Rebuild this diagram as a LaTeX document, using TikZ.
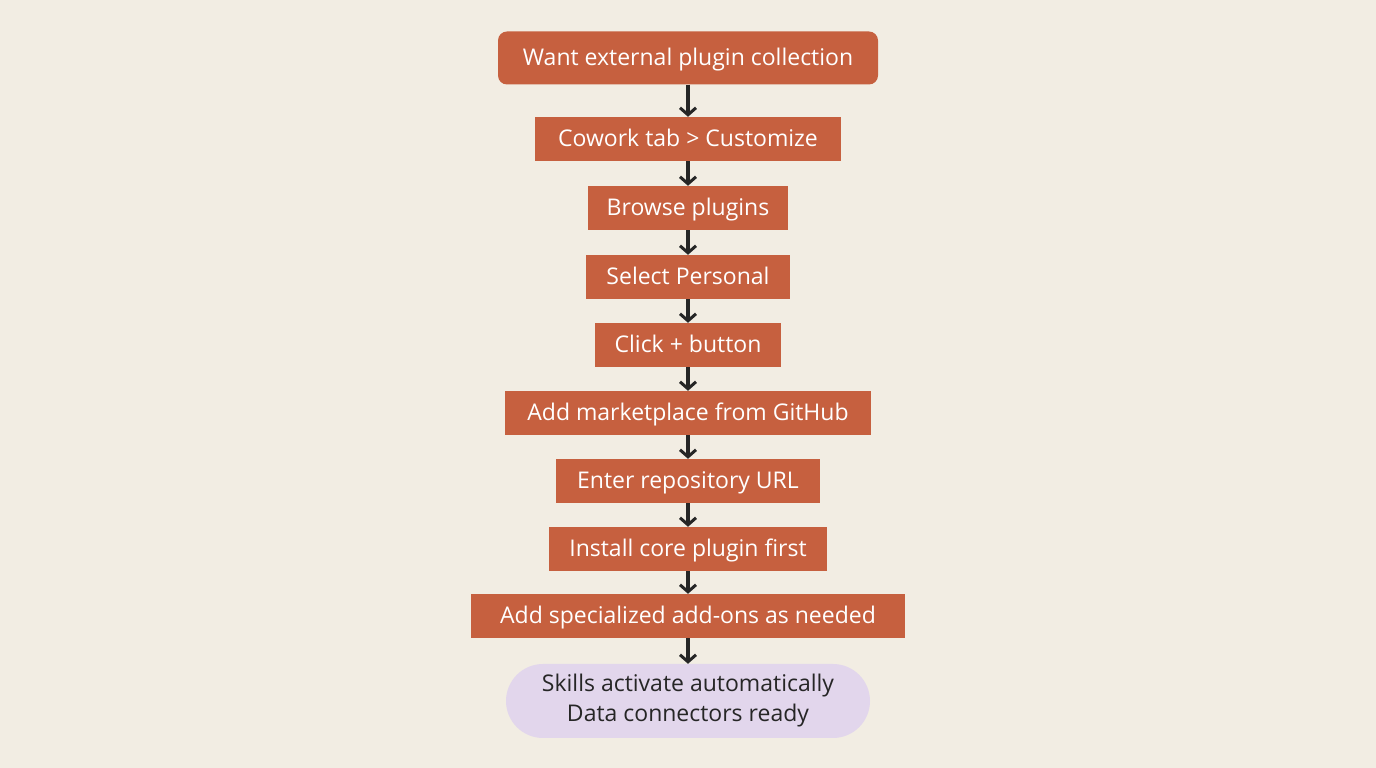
\documentclass[tikz,border=0pt]{standalone}
\usepackage{fontspec}
\setmainfont{Open Sans}
\usetikzlibrary{arrows.meta}
\definecolor{bg}{HTML}{F2EDE3}
\definecolor{rust}{HTML}{C6603F}
\definecolor{lav}{HTML}{E2D6EC}
\begin{document}
\begin{tikzpicture}[x=1pt,y=1pt,
  stepbox/.style={fill=rust,text=white,font=\fontsize{23}{27}\selectfont,inner sep=0pt,minimum height=44pt,text height=19pt,text depth=3pt},
  arr/.style={draw=black!85,line width=3.5pt,-{Straight Barb[length=7pt,width=16pt,line width=3pt]}}]
\fill[bg] (0,0) rectangle (1376,768);
\useasboundingbox (0,0) rectangle (1376,768);
\node[stepbox,rounded corners=9pt,minimum width=380pt,minimum height=53pt] (a) at (688,710) {Want external plugin collection};
\node[stepbox,minimum width=306pt] (b) at (688,629) {Cowork tab > Customize};
\node[stepbox,minimum width=200pt] (c) at (688,560) {Browse plugins};
\node[stepbox,minimum width=204pt] (d) at (688,491) {Select Personal};
\node[stepbox,minimum width=186pt] (e) at (688,423) {Click + button};
\node[stepbox,minimum width=366pt] (f) at (688,355) {Add marketplace from GitHub};
\node[stepbox,minimum width=264pt] (g) at (688,287) {Enter repository URL};
\node[stepbox,minimum width=278pt] (h) at (688,219) {Install core plugin first};
\node[stepbox,minimum width=434pt] (i) at (688,152) {Add specialized add-ons as needed};
\node[fill=lav,rounded corners=37pt,minimum width=364pt,minimum height=74pt,inner sep=0pt,align=center,text=black!85,font=\fontsize{23}{30}\selectfont] (j) at (688,67) {Skills activate automatically\\Data connectors ready};
\foreach \p/\q in {a/b,b/c,c/d,d/e,e/f,f/g,g/h,h/i,i/j}
  \draw[arr] (\p.south) -- (\q.north);
\end{tikzpicture}
\end{document}
